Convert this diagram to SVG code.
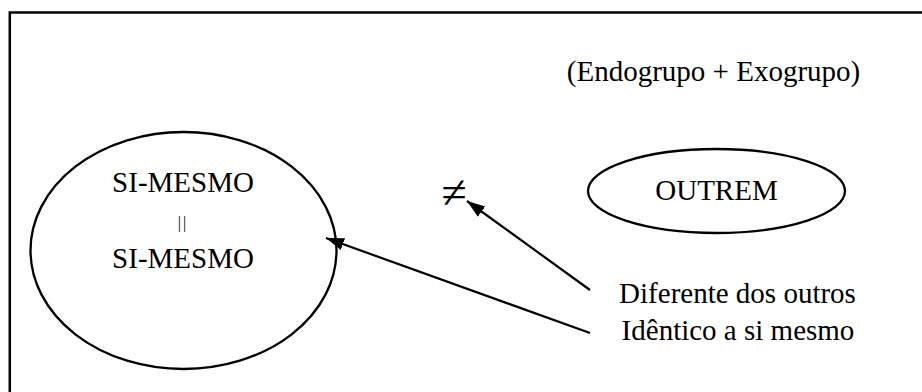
<svg xmlns="http://www.w3.org/2000/svg" width="922" height="392" viewBox="0 0 922 392">
<defs>
<style>
.t{font-size:29px}
.shape{fill:none;stroke:#000;stroke-width:2.3}
.conn{stroke:#000;stroke-width:2.2;fill:none}
</style>
<marker id="ah2" viewBox="0 0 10 10" refX="10" refY="5" markerWidth="18" markerHeight="18" markerUnits="userSpaceOnUse" orient="auto">
<path d="M0,1.5 L10,5 L0,8.5 z" fill="#000"/>
</marker>
</defs>
<rect x="9.8" y="12.5" width="930" height="400" fill="none" stroke="#000" stroke-width="2.5"/>
<g font-family="'Liberation Serif', 'Times New Roman', serif" text-anchor="middle" fill="#000">
<g id="si-mesmo">
<ellipse cx="183.5" cy="250.5" rx="153" ry="118.5" class="shape"/>
<text class="t" x="183" y="192">SI-MESMO</text>
<text x="183" y="228" font-size="16" letter-spacing="2">||</text>
<text class="t" x="183" y="268">SI-MESMO</text>
</g>
<g id="grupo">
<text class="t" x="713.5" y="81">(Endogrupo + Exogrupo)</text>
</g>
<g id="outrem">
<ellipse cx="716.5" cy="191" rx="128.5" ry="42" class="shape"/>
<text class="t" x="716.5" y="200">OUTREM</text>
</g>
<g id="diferente">
<text x="454" y="208" font-size="46">≠</text>
</g>
<g id="labels">
<text class="t" x="737.5" y="303">Diferente dos outros</text>
<text class="t" x="738" y="340">Idêntico a si mesmo</text>
</g>
</g>
<g id="connectors">
<line x1="590" y1="290" x2="467" y2="201" class="conn" marker-end="url(#ah2)"/>
<line x1="590" y1="333" x2="326" y2="238" class="conn" marker-end="url(#ah2)"/>
</g>
</svg>
